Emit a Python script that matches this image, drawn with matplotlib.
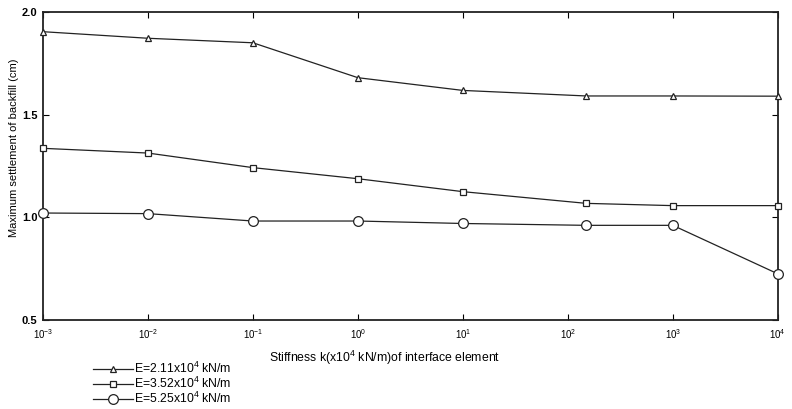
import matplotlib
matplotlib.use("Agg")
import matplotlib.pyplot as plt

plt.rcParams['font.family'] = ['Liberation Sans', 'DejaVu Sans']
plt.rcParams['mathtext.default'] = 'regular'

# stiffness k (x10^4 kN/m)
k = [1e-3, 1e-2, 1e-1, 1e0, 1e1, 150, 1e3, 1e4]

# maximum settlement (cm) for each modulus
s_211 = [1.904, 1.872, 1.850, 1.680, 1.618, 1.591, 1.591, 1.590]
s_352 = [1.336, 1.313, 1.242, 1.188, 1.125, 1.068, 1.057, 1.057]
s_525 = [1.021, 1.018, 0.982, 0.982, 0.970, 0.961, 0.961, 0.725]

labels = ['E=2.11x10$^4$ kN/m', 'E=3.52x10$^4$ kN/m', 'E=5.25x10$^4$ kN/m']
xticks = [1e-3, 1e-2, 1e-1, 1e0, 1e1, 1e2, 1e3, 1e4]
xticklabels = ['10$^{-3}$', '10$^{-2}$', '10$^{-1}$', '10$^{0}$',
               '10$^{1}$', '10$^{2}$', '10$^{3}$', '10$^{4}$']
yticks = [0.5, 1.0, 1.5, 2.0]

fig = plt.figure(figsize=(7.92, 4.09), dpi=100)
ax = fig.add_axes([0.0543, 0.2176, 0.9277, 0.7531])

c = '#222222'
l1, = ax.plot(k, s_211, '-', color=c, lw=0.9, marker='^', ms=5,
              mfc='white', mec=c, mew=0.9, clip_on=False, zorder=3)
l2, = ax.plot(k, s_352, '-', color=c, lw=0.9, marker='s', ms=5,
              mfc='white', mec=c, mew=0.9, clip_on=False, zorder=3)
l3, = ax.plot(k, s_525, '-', color=c, lw=0.9, marker='o', ms=7,
              mfc='white', mec=c, mew=0.9, clip_on=False, zorder=3)

ax.set_xscale('log')
ax.set_xlim(1e-3, 1e4)
ax.set_ylim(0.5, 2.0)
ax.set_xticks(xticks)
ax.set_xticklabels(xticklabels, fontsize=7)
ax.minorticks_off()
ax.set_yticks(yticks)
ax.set_yticklabels(['%.1f' % v for v in yticks], fontsize=8, fontweight='bold')
ax.tick_params(direction='in', top=True, right=True, length=4, width=0.8)
ax.tick_params(axis='x', pad=5)
ax.tick_params(axis='y', pad=4)
for sp in ax.spines.values():
    sp.set_linewidth(1.3)
    sp.set_color(c)

ax.set_xlabel('Stiffness k(x10$^4$ kN/m)of interface element', fontsize=8.8)
ax.xaxis.set_label_coords(0.465, -0.095)
ax.set_ylabel('Maximum settlement of backfill (cm)', fontsize=8)
ax.yaxis.set_label_coords(-0.033, 0.56)

fig.legend([l1, l2, l3], labels, loc='upper left',
           bbox_to_anchor=(0.118, 0.118), frameon=False, fontsize=8.8,
           handlelength=3.2, handletextpad=0.1, labelspacing=0.0,
           borderpad=0, borderaxespad=0)

fig.savefig('out.png', dpi=100)
